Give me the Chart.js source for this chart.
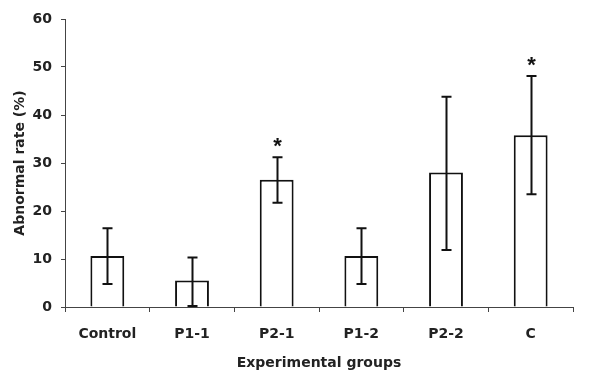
<!DOCTYPE html>
<html>
<head>
<meta charset="utf-8">
<script src="https://cdn.jsdelivr.net/npm/chart.js@4"></script>
<style>
  html, body { margin: 0; padding: 0; background: #fff; }
  #wrap { width: 600px; height: 376px; }
</style>
</head>
<body>
<div id="wrap"><canvas id="myChart" width="600" height="376"></canvas></div>
<script>
const labels = ['Control', 'P1-1', 'P2-1', 'P1-2', 'P2-2', 'C'];

// mean abnormal rate (%) and error bar ends
const valores = [10.6, 5.5, 26.5, 10.6, 28.0, 35.8];
const errLow  = [4.8, 0.2, 21.7, 4.8, 11.9, 23.5];
const errHigh = [16.4, 10.3, 31.2, 16.4, 43.8, 48.1];
const signif  = [false, false, true, false, false, true];

const yTicks = [0, 10, 20, 30, 40, 50, 60];

const fonte = '"DejaVu Sans", Arial, sans-serif';

// error bars + asterisks
const barrasErro = {
    id: 'barrasErro',
    afterDatasetsDraw(chart) {
        const ctx = chart.ctx;
        const y = chart.scales.y;
        const meta = chart.getDatasetMeta(0);
        ctx.save();
        ctx.strokeStyle = '#111';
        ctx.lineWidth = 2;
        meta.data.forEach((bar, i) => {
            const x = Math.round(bar.x) + 0.5;
            const yl = y.getPixelForValue(errLow[i]);
            const yh = y.getPixelForValue(errHigh[i]);
            ctx.beginPath();
            ctx.moveTo(x, yl);
            ctx.lineTo(x, yh);
            ctx.moveTo(x - 5, yl);
            ctx.lineTo(x + 5, yl);
            ctx.moveTo(x - 5, yh);
            ctx.lineTo(x + 5, yh);
            ctx.stroke();
            if (signif[i]) {
                ctx.fillStyle = '#111';
                ctx.font = 'bold 22px Arial, "Liberation Sans", sans-serif';
                ctx.textAlign = 'center';
                ctx.textBaseline = 'alphabetic';
                ctx.fillText('*', x, yh - 4);
            }
        });
        ctx.restore();
    }
};

const data = {
    labels: labels,
    datasets: [{
        data: valores,
        backgroundColor: '#fff',
        borderColor: '#111',
        borderWidth: 2,
        borderSkipped: 'bottom',
        categoryPercentage: 1,
        barPercentage: 0.4
    }]
};

const config = {
    type: 'bar',
    data: data,
    options: {
        responsive: false,
        animation: false,
        layout: { padding: { top: 19, right: 27, left: 8, bottom: 0 } },
        plugins: {
            legend: { display: false },
            tooltip: { enabled: false }
        },
        scales: {
            x: {
                offset: true,
                border: { color: '#444', width: 1 },
                grid: { offset: true, drawOnChartArea: false, drawTicks: true, tickLength: 5, color: '#444' },
                ticks: { color: '#222', font: { family: fonte, size: 14, weight: 'bold' }, padding: 14 },
                title: { display: true, text: 'Experimental groups', color: '#222', font: { family: fonte, size: 14, weight: 'bold' }, padding: { top: 6 } },
                afterFit: s => { s.height = 69; }
            },
            y: {
                min: 0,
                max: 60,
                afterBuildTicks: s => { s.ticks = yTicks.map(v => ({ value: v })); },
                border: { color: '#444', width: 1 },
                grid: { drawOnChartArea: false, drawTicks: true, tickLength: 4, color: '#444' },
                ticks: { color: '#222', font: { family: fonte, size: 14, weight: 'bold' }, padding: 9 },
                title: { display: true, text: 'Abnormal rate (%)', color: '#222', font: { family: fonte, size: 14, weight: 'bold' }, padding: { bottom: 4 } },
                afterFit: s => { s.width = 57; }
            }
        }
    },
    plugins: [barrasErro]
};

const myChart = new Chart(
    document.getElementById('myChart'),
    config
);
</script>
</body>
</html>
